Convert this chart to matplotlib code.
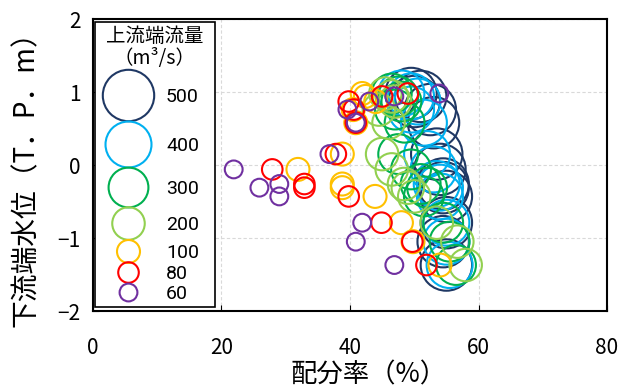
import matplotlib.pyplot as plt
from matplotlib.lines import Line2D
from matplotlib.legend_handler import HandlerBase

plt.rcParams['font.family'] = ['Noto Sans CJK JP', 'DejaVu Sans']

# upstream discharge (m3/s) and colours of each series
flows = [500, 400, 300, 200, 100, 80, 60]
colors = ['#1f3864', '#00b0f0', '#00b050', '#92d050', '#ffc000', '#ff0000', '#7030a0']

# downstream water level (T.P. m) for each case
level = [0.98, 0.94, 0.87, 0.76, 0.58, 0.15, -0.06, -0.26, -0.31, -0.43, -0.79, -1.05, -1.37]

# distribution ratio (%) for each discharge
ratio_500 = [49.5, 51.0, 50.0, 52.5, 53.0, 53.5, 54.0, 54.5, 54.5, 55.0, 55.0, 54.5, 55.0]
ratio_400 = [48.0, 49.5, 50.5, 49.5, 51.5, 52.0, 53.0, 53.5, 54.0, 54.0, 55.0, 55.0, 55.5]
ratio_300 = [46.5, 47.5, 48.0, 47.0, 48.5, 47.5, 49.5, 51.0, 52.0, 51.5, 54.5, 55.5, 56.5]
ratio_200 = [45.5, 46.5, 47.0, 44.5, 46.0, 45.0, 46.5, 48.4, 49.0, 50.0, 53.5, 56.7, 58.0]
ratio_100 = [41.9, 42.4, 44.0, 40.5, 40.9, 38.8, 31.9, 38.8, 38.8, 43.9, 48.0, 49.8, 54.0]
ratio_80 = [49.0, 45.0, 39.8, 40.6, 40.9, 37.8, 27.9, 32.9, 32.9, 39.8, 44.9, 49.7, 51.9]
ratio_60 = [53.9, 46.9, 43.0, 39.6, 40.9, 36.8, 21.9, 29.0, 25.9, 29.0, 41.9, 40.9, 46.9]

ratios = [ratio_500, ratio_400, ratio_300, ratio_200, ratio_100, ratio_80, ratio_60]

SIZE_K = 2.74   # marker area (pt^2) per m3/s
LW = 1.5


class RingHandler(HandlerBase):
    """legend handle whose row height follows the circle size"""
    def legend_artist(self, legend, orig_handle, fontsize, handlebox):
        d = orig_handle.get_markersize()
        handlebox.height = d
        handlebox.ydescent = handlebox.height / 2 - 0.36 * fontsize
        x = handlebox.width / 2
        y = handlebox.height / 2 - handlebox.ydescent
        ring = Line2D([x], [y], marker='o', markersize=d, linestyle='none',
                      markerfacecolor='none',
                      markeredgecolor=orig_handle.get_markeredgecolor(),
                      markeredgewidth=LW)
        ring.set_transform(handlebox.get_transform())
        handlebox.add_artist(ring)
        return ring


fig = plt.figure(figsize=(6.22, 3.89), dpi=100)
ax = fig.add_axes([0.1495, 0.2005, 0.8264, 0.7505])

for q, c, r in zip(flows, colors, ratios):
    ax.scatter(r, level, s=SIZE_K * q, facecolors='none', edgecolors=c,
               linewidths=LW, zorder=3)

ax.set_xlim(0, 80)
ax.set_ylim(-2, 2)
ax.set_xticks([0, 20, 40, 60, 80])
ax.set_yticks([-2, -1, 0, 1, 2])
ax.grid(True, color='#d9d9d9', linestyle=(0, (3, 2)), linewidth=0.8)
ax.set_axisbelow(True)
ax.tick_params(direction='in', length=4, labelsize=15)
ax.tick_params(axis='x', pad=19)
ax.tick_params(axis='y', pad=9)
for s in ax.spines.values():
    s.set_linewidth(1.5)

ax.set_xlabel('配分率（%）', fontsize=19)
ax.set_ylabel('下流端水位（T．P．m）', fontsize=20)
ax.xaxis.label.set_va('center')
ax.yaxis.label.set_va('center')
ax.xaxis.set_label_coords(0.537, -0.219)
ax.yaxis.set_label_coords(-0.130, 0.476)

handles = [Line2D([], [], marker='o', markersize=(SIZE_K * q) ** 0.5,
                  markeredgecolor=c, markerfacecolor='none', linestyle='none')
           for q, c in zip(flows, colors)]
leg = ax.legend(handles, [str(q) for q in flows],
                handler_map={Line2D: RingHandler()},
                title='上流端流量\n（m³/s）', loc='upper left',
                bbox_to_anchor=(0.004, 0.0, 0.233, 0.99), mode='expand',
                prop={'family': 'Roboto', 'size': 14},
                title_fontproperties={'size': 14},
                fancybox=False, edgecolor='black', framealpha=1,
                labelspacing=0, handlelength=3.0, handletextpad=0.45,
                borderpad=0.2, borderaxespad=0)
leg.get_title().set_linespacing(1.1)
leg.get_title().set_multialignment('center')
leg.get_frame().set_linewidth(1.2)
leg.set_zorder(5)

plt.savefig('out.png', dpi=100)
